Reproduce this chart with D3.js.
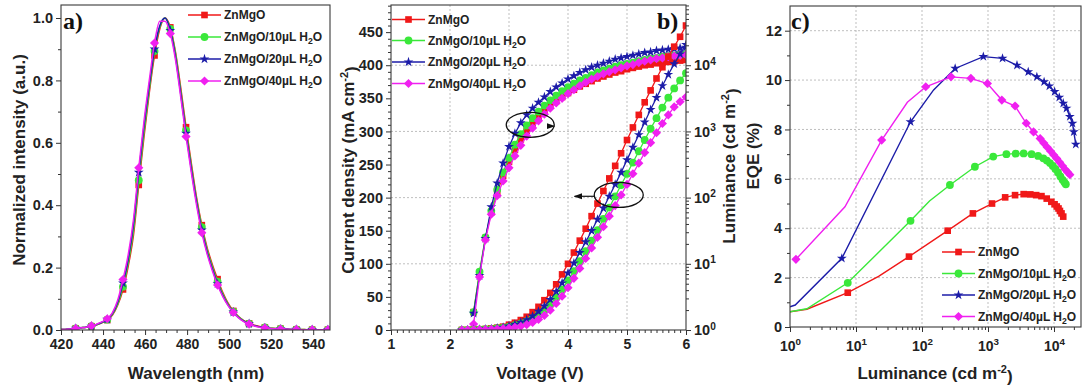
<!DOCTYPE html>
<html><head><meta charset="utf-8">
<script src="https://cdn.jsdelivr.net/npm/d3@7"></script>
<style>
body{margin:0;background:#fff;}
svg{display:block;font-family:"Liberation Sans",Arial,Helvetica,sans-serif;font-weight:bold;}
</style></head><body>
<svg id="chart" width="1083" height="391"></svg>
<script>
// ---------- shared ----------
const seriesLabels = ["ZnMgO", "ZnMgO/10µL H2O", "ZnMgO/20µL H2O", "ZnMgO/40µL H2O"];
const colors = ["#f01818", "#3ae83a", "#1c1ca8", "#f020f0"];

// ---------- panel a : EL spectra ----------
const wavelength = [419.5,422,424.5,427,429.5,432,434.5,437,439.5,442,444.5,447,449.5,452,454.5,457,459.5,462,464.5,467,469.5,472,474.5,477,479.5,482,484.5,487,489.5,492,494.5,497,499.5,502,504.5,507,509.5,512,514.5,517,519.5,522,524.5,527,529.5,532,534.5,537,539.5,542,544.5,547];
const elRed  = [0.001,0.002,0.003,0.005,0.007,0.009,0.012,0.017,0.023,0.032,0.048,0.08,0.13,0.205,0.305,0.465,0.62,0.76,0.88,0.965,1.0,0.97,0.89,0.775,0.65,0.535,0.425,0.336,0.265,0.21,0.163,0.12,0.086,0.061,0.043,0.03,0.021,0.015,0.011,0.008,0.006,0.005,0.004,0.003,0.002,0.002,0.002,0.001,0.001,0.001,0.001,0.001];
const elGreen= [0.001,0.002,0.003,0.005,0.007,0.009,0.012,0.017,0.024,0.033,0.05,0.083,0.139,0.215,0.32,0.48,0.635,0.77,0.894,0.97,1.0,0.965,0.885,0.765,0.64,0.525,0.418,0.33,0.258,0.203,0.155,0.115,0.083,0.059,0.042,0.029,0.02,0.014,0.01,0.008,0.006,0.005,0.004,0.003,0.002,0.002,0.002,0.001,0.001,0.001,0.001,0.001];
const elBlue = [0.001,0.002,0.003,0.005,0.007,0.009,0.012,0.018,0.025,0.034,0.053,0.09,0.15,0.228,0.34,0.505,0.655,0.785,0.9,0.975,1.0,0.96,0.875,0.755,0.63,0.515,0.41,0.32,0.25,0.196,0.148,0.11,0.08,0.057,0.04,0.028,0.02,0.014,0.01,0.007,0.005,0.004,0.003,0.003,0.002,0.002,0.001,0.001,0.001,0.001,0.001,0.001];
const elMag  = [0.001,0.002,0.003,0.005,0.007,0.009,0.013,0.019,0.026,0.036,0.056,0.096,0.162,0.242,0.355,0.52,0.67,0.8,0.92,0.99,0.99,0.95,0.865,0.745,0.62,0.505,0.4,0.312,0.244,0.19,0.144,0.107,0.078,0.056,0.039,0.027,0.019,0.013,0.009,0.007,0.005,0.004,0.003,0.003,0.002,0.002,0.001,0.001,0.001,0.001,0.001,0.001];
const aXTicks = [420,440,460,480,500,520,540];
const aYTicks = [0,0.2,0.4,0.6,0.8,1.0];

// ---------- panel b : J-V-L ----------
const voltage = [2.2,2.3,2.4,2.5,2.6,2.7,2.8,2.9,3.0,3.1,3.2,3.3,3.4,3.5,3.6,3.7,3.8,3.9,4.0,4.1,4.2,4.3,4.4,4.5,4.6,4.7,4.8,4.9,5.0,5.1,5.2,5.3,5.4,5.5,5.6,5.7,5.8,5.9,6.0];
const jRed   = [0,0.2,0.5,1,1.5,2.5,3.5,5,8,11,15,20,27,35,45,56,69,84,100,117,135,153,172,191,210,229,248,267,287,306,325,344,362,380,397,413,428,443,460];
const jGreen = [0,0.2,0.5,0.8,1.2,1.8,2.6,3.7,5.2,7.2,9.8,13.2,17.5,23,30,39,49,61,75,89,104,119,135,151,168,185,202,219,236,253,270,287,304,320,336,351,365,377,388];
const jBlue  = [0,0.2,0.5,0.8,1.2,1.8,2.8,4,6,8.5,11.5,15.5,21,28,36,46,58,71,86,101,117,133,150,167,184,202,220,238,257,276,295,314,333,351,369,386,402,417,431];
const jMag   = [0,0.1,0.3,0.5,0.7,1,1.4,2,2.8,4,5.5,8,11.5,16,22,30,40,51,64,78,93,108,124,140,156,172,188,204,220,236,252,268,283,298,312,325,337,345,352];
const lumRed   = [null,null,1.86,7.24,24.5,60.3,120,214,347,525,759,1023,1318,1660,2042,2455,2884,3311,3802,4266,4786,5248,5754,6310,6761,7244,7762,8128,8710,9120,9550,10000,10233,10715,10965,11220,11482,11749,12023];
const lumGreen = [null,null,1.86,7.59,25.1,63.1,132,240,398,631,912,1230,1585,1995,2455,2951,3467,4074,4677,5248,5888,6457,7079,7762,8318,8913,9550,10000,10471,10965,11482,12023,12589,12882,13490,13804,14125,14454,14791];
const lumBlue  = [null,null,1.78,6.61,24.0,72.4,166,331,589,933,1349,1778,2239,2754,3311,3981,4677,5370,6166,6918,7762,8511,9333,10000,10715,11482,12303,12882,13490,14125,14791,15488,15849,16596,16982,17378,17783,18197,18621];
const lumMag   = [null,null,1.23,6.31,22.9,56.2,107,178,282,427,617,851,1122,1445,1820,2239,2692,3162,3715,4266,4898,5495,6166,6761,7413,7943,8511,9120,9772,10233,10965,11482,12023,12589,12882,13490,13804,14125,14454];
const bXTicks = [1,2,3,4,5,6];
const bYTicks = [0,50,100,150,200,250,300,350,400,450];
const bRTicks = [1,10,100,1000,10000];

// ---------- panel c : EQE-L ----------
const eqeRedL  = [1,1.8,7.5,22,63.5,245,590,1150,1820,2570,3470,4370,5370,6460,7760,9120,10200,11000,11700,12300,13000,13800];
const eqeRedE  = [0.62,0.72,1.39,2.05,2.85,3.9,4.6,5.0,5.25,5.34,5.38,5.37,5.34,5.3,5.2,5.07,4.97,4.88,4.8,4.7,4.6,4.47];
const eqeRedM  = [0,0,1,0,1,1,1,1,1,1,1,1,1,1,1,1,1,1,1,1,1,1];
const eqeGreenL= [1,1.8,7.5,67,130,265,633,1200,1900,2630,3470,4570,5750,6900,7800,8700,9600,10500,11500,12500,13500,14400,15100];
const eqeGreenE= [0.62,0.74,1.79,4.3,5.1,5.75,6.49,6.9,7.0,7.02,7.03,7.0,6.93,6.83,6.74,6.64,6.52,6.4,6.26,6.1,5.96,5.86,5.78];
const eqeGreenM= [0,0,1,1,0,1,1,1,1,1,1,1,1,1,1,1,1,1,1,1,1,1,1];
const eqeBlueL = [1,1.2,6.1,67,150,318,850,1660,2750,4070,5500,7080,8510,10230,12020,13800,15490,17380,19050,19950,21380];
const eqeBlueE = [0.82,0.89,2.78,8.31,9.6,10.47,10.95,10.88,10.6,10.33,10.13,9.93,9.76,9.53,9.3,9.06,8.86,8.52,8.25,7.9,7.4];
const eqeBlueM = [0,0,1,1,0,1,1,1,1,1,1,1,1,1,1,1,1,1,1,1,1];
const eqeMagL  = [1.23,6.8,24.5,60,114,275,550,980,1620,2570,3800,4900,6170,7000,7900,8900,9900,11000,12200,13500,14800,16100,17400];
const eqeMagE  = [2.74,4.87,7.57,9.1,9.73,10.13,10.07,9.86,9.19,8.95,8.25,7.9,7.63,7.45,7.28,7.12,6.97,6.82,6.67,6.52,6.38,6.27,6.17];
const eqeMagM  = [1,0,1,0,1,1,1,1,1,1,1,1,1,1,1,1,1,1,1,1,1,1,1];
const cXTicks = [1,10,100,1000,10000];
const cYTicks = [0,2,4,6,8,10,12];

// ---------- drawing ----------
const svg = d3.select("#chart");
const defs = svg.append("defs");
defs.append("marker").attr("id","arrow").attr("viewBox","0 0 10 10").attr("refX",9).attr("refY",5)
  .attr("markerWidth",7).attr("markerHeight",7).attr("orient","auto-start-reverse")
  .append("path").attr("d","M0,1.5 L10,5 L0,8.5 Z").attr("fill","#111");

const shapes = [
  {type:d3.symbolSquare, size:44, rot:false},
  {type:d3.symbolCircle, size:48, rot:false},
  {type:d3.symbolStar, size:30, rot:false},
  {type:d3.symbolSquare, size:42, rot:true}
];
const TICK_FS = 14, TITLE_FS = 17, LEG_FS = 12;

function clip(id, x0, y0, x1, y1){
  defs.append("clipPath").attr("id",id).append("rect").attr("x",x0).attr("y",y0).attr("width",x1-x0).attr("height",y1-y0);
}
function frame(x0,y0,x1,y1){
  svg.append("rect").attr("x",x0).attr("y",y0).attr("width",x1-x0).attr("height",y1-y0)
    .attr("fill","none").attr("stroke","#3a3a3a").attr("stroke-width",1.1);
}
function styleAxis(g, fs){
  g.select(".domain").remove();
  g.selectAll(".tick line").attr("stroke","#333").attr("stroke-width",1);
  g.selectAll(".tick text").attr("fill","#222").attr("font-size",fs).attr("font-weight","bold")
    .attr("font-family",'"Liberation Sans",Arial,sans-serif');
}
function axis(gen, transform, fs){
  const g = svg.append("g").attr("transform",transform).call(gen);
  styleAxis(g, fs || TICK_FS);
  return g;
}
function supLabels(g){
  g.selectAll(".tick text").each(function(d){
    const t = d3.select(this); t.text(null);
    t.append("tspan").text("10");
    t.append("tspan").attr("dy","-0.55em").attr("font-size","70%").text(Math.round(Math.log10(d)));
  });
}
function drawSeries(g, xs, ys, xS, yS, ci, markFn, curve, width){
  const pts = xs.map((x,i)=>[x, ys[i], i]).filter(p=>p[1]!=null);
  g.append("path").datum(pts).attr("fill","none").attr("stroke",colors[ci]).attr("stroke-width",width||1.4)
    .attr("d", d3.line().x(p=>xS(p[0])).y(p=>yS(p[1])).curve(curve||d3.curveLinear));
  const sh = shapes[ci];
  g.selectAll(null).data(pts.filter(p=>markFn(p[2]))).join("path")
    .attr("transform",p=>`translate(${xS(p[0])},${yS(p[1])})${sh.rot?" rotate(45)":""}`)
    .attr("d", d3.symbol().type(sh.type).size(sh.size)).attr("fill",colors[ci]);
}
function labelWithSub(sel, label){
  const parts = label.split("H2O");
  sel.append("tspan").text(parts[0] + (parts.length>1 ? "H" : ""));
  if(parts.length>1){
    sel.append("tspan").attr("dy",3).attr("font-size",LEG_FS*0.72).text("2");
    sel.append("tspan").attr("dy",-3).text("O");
  }
}
function legend(x0, ys){
  seriesLabels.forEach((lab,i)=>{
    const y = ys[i];
    svg.append("line").attr("x1",x0).attr("x2",x0+33).attr("y1",y).attr("y2",y).attr("stroke",colors[i]).attr("stroke-width",1.6);
    const sh = shapes[i];
    svg.append("path").attr("transform",`translate(${x0+16.5},${y})${sh.rot?" rotate(45)":""}`)
      .attr("d", d3.symbol().type(sh.type).size(sh.size)).attr("fill",colors[i]);
    const t = svg.append("text").attr("x",x0+36).attr("y",y+4.3).attr("font-size",LEG_FS).attr("fill","#222");
    labelWithSub(t, lab);
  });
}
function title(x, y, rot, parts){
  const t = svg.append("text").attr("text-anchor","middle").attr("font-size",TITLE_FS).attr("fill","#222")
    .attr("transform",`translate(${x},${y})${rot?" rotate(-90)":""}`).attr("dy","0.35em");
  parts.forEach(p=>{
    if(typeof p === "string") t.append("tspan").text(p);
    else t.append("tspan").attr("dy",p.dy).attr("font-size",p.fs).text(p.t);
  });
  return t;
}
function panelLabel(x, y, s){
  svg.append("text").attr("x",x).attr("y",y).attr("font-family",'"Liberation Serif","Times New Roman",serif')
    .attr("font-weight","bold").attr("font-size",24).attr("fill","#111").text(s);
}

// ===== Panel a =====
{
  const x0=61, x1=330, y0=5, y1=330;
  const x = d3.scaleLinear().domain([420,548]).range([x0,x1]);
  const y = d3.scaleLinear().domain([0,1.0417]).range([y1,y0]);
  clip("clipA", x0, y0, x1, y1);
  axis(d3.axisBottom(x).tickValues(d3.range(425,548,5).filter(v=>v%20!==0)).tickSize(3).tickFormat(""), `translate(0,${y1})`);
  axis(d3.axisBottom(x).tickValues(aXTicks).tickSize(5).tickPadding(4).tickFormat(d3.format("d")), `translate(0,${y1})`);
  axis(d3.axisLeft(y).tickValues([0.1,0.3,0.5,0.7,0.9]).tickSize(3).tickFormat(""), `translate(${x0},0)`);
  axis(d3.axisLeft(y).tickValues(aYTicks).tickSize(5).tickPadding(3).tickFormat(d3.format(".1f")), `translate(${x0},0)`, 14.5);
  const g = svg.append("g").attr("clip-path","url(#clipA)");
  const mk = i => i>=3 && i%3===0;
  [elRed, elGreen, elBlue, elMag].forEach((s,ci)=>drawSeries(g, wavelength, s, x, y, ci, mk, d3.curveMonotoneX, 1.5));
  frame(x0,y0,x1,y1);
  legend(188, [15, 37, 59, 81]);
  panelLabel(63, 29, "a)");
  title(19, 160, true, ["Normalized intensity (a.u.)"]);
  title(196, 373, false, ["Wavelength (nm)"]);
}

// ===== Panel b =====
{
  const x0=391, x1=686, y0=5, y1=330;
  const x = d3.scaleLinear().domain([1,6]).range([x0,x1]);
  const y = d3.scaleLinear().domain([0,491]).range([y1,y0]);
  const yR = d3.scaleLog().domain([1, Math.pow(10,4.91)]).range([y1,y0]);
  clip("clipB", x0, y0, x1, y1);
  const grid = svg.append("g");
  [2,3,4,5].forEach(v=>grid.append("line").attr("x1",x(v)).attr("x2",x(v)).attr("y1",y0).attr("y2",y1));
  [10,100,1000,10000].forEach(v=>grid.append("line").attr("x1",x0).attr("x2",x1).attr("y1",yR(v)).attr("y2",yR(v)));
  grid.selectAll("line").attr("stroke","#b8b8b8").attr("stroke-width",0.9).attr("stroke-dasharray","2,2");
  axis(d3.axisBottom(x).tickValues(d3.range(1.1,6,0.1).filter(v=>Math.abs(v-Math.round(v))>0.01)).tickSize(3).tickFormat(""), `translate(0,${y1})`);
  axis(d3.axisBottom(x).tickValues(bXTicks).tickSize(5).tickPadding(4).tickFormat(d3.format("d")), `translate(0,${y1})`);
  axis(d3.axisLeft(y).tickValues(d3.range(10,491,10).filter(v=>v%50!==0)).tickSize(3).tickFormat(""), `translate(${x0},0)`);
  axis(d3.axisLeft(y).tickValues(bYTicks).tickSize(5).tickPadding(3).tickFormat(d3.format("d")), `translate(${x0},0)`, 14.5);
  const minorR = [];
  [1,10,100,1000,10000].forEach(dd=>[2,3,4,5,6,7,8,9].forEach(m=>{ if(dd*m < Math.pow(10,4.91)) minorR.push(dd*m); }));
  axis(d3.axisRight(yR).tickValues(minorR).tickSize(3).tickFormat(""), `translate(${x1},0)`);
  const gr = axis(d3.axisRight(yR).tickValues(bRTicks).tickSize(5).tickPadding(3), `translate(${x1},0)`, 14.5);
  supLabels(gr);
  const g = svg.append("g").attr("clip-path","url(#clipB)");
  const all = () => true;
  [lumRed, lumGreen, lumBlue, lumMag].forEach((s,ci)=>drawSeries(g, voltage, s, x, yR, ci, all, d3.curveLinear, 1.3));
  [jRed, jGreen, jBlue, jMag].forEach((s,ci)=>drawSeries(g, voltage, s, x, y, ci, all, d3.curveLinear, 1.3));
  svg.append("ellipse").attr("cx",x(3.36)).attr("cy",y(310)).attr("rx",24).attr("ry",12.5)
    .attr("fill","none").attr("stroke","#111").attr("stroke-width",1.3);
  svg.append("line").attr("x1",x(3.36)+24).attr("x2",x(3.77)).attr("y1",y(308)).attr("y2",y(308))
    .attr("stroke","#111").attr("stroke-width",1.2).attr("marker-end","url(#arrow)");
  svg.append("ellipse").attr("cx",x(4.86)).attr("cy",y(204)).attr("rx",24.5).attr("ry",12.5)
    .attr("fill","none").attr("stroke","#111").attr("stroke-width",1.3);
  svg.append("line").attr("x1",x(4.86)-24.5).attr("x2",x(4.11)).attr("y1",y(202)).attr("y2",y(202))
    .attr("stroke","#111").attr("stroke-width",1.2).attr("marker-end","url(#arrow)");
  frame(x0,y0,x1,y1);
  legend(392, [19.5, 40.5, 62, 83.5]);
  panelLabel(657, 29, "b)");
  title(348, 170, true, ["Current density (mA cm", {t:"-2", dy:"-0.5em", fs:11}, {t:")", dy:"0.5em", fs:TITLE_FS}]);
  title(540, 373, false, ["Voltage (V)"]);
  title(729, 166, true, ["Luminance (cd m", {t:"-2", dy:"-0.5em", fs:11}, {t:")", dy:"0.5em", fs:TITLE_FS}]);
  title(753, 156, true, ["EQE (%)"]);
}

// ===== Panel c =====
{
  const x0=790, x1=1081, y0=6, y1=327;
  const x = d3.scaleLog().domain([1, Math.pow(10,291/66)]).range([x0,x1]);
  const y = d3.scaleLinear().domain([0,13]).range([y1,y0]);
  clip("clipC", x0, y0, x1, y1);
  const grid = svg.append("g");
  [10,100,1000,10000].forEach(v=>grid.append("line").attr("x1",x(v)).attr("x2",x(v)).attr("y1",y0).attr("y2",y1));
  [2,4,6,8,10,12].forEach(v=>grid.append("line").attr("x1",x0).attr("x2",x1).attr("y1",y(v)).attr("y2",y(v)));
  grid.selectAll("line").attr("stroke","#b8b8b8").attr("stroke-width",0.9).attr("stroke-dasharray","2,2");
  const minorX = [];
  [1,10,100,1000,10000].forEach(dd=>[2,3,4,5,6,7,8,9].forEach(m=>{ if(dd*m < x.domain()[1]) minorX.push(dd*m); }));
  axis(d3.axisBottom(x).tickValues(minorX).tickSize(3).tickFormat(""), `translate(0,${y1})`);
  const gx = axis(d3.axisBottom(x).tickValues(cXTicks).tickSize(5).tickPadding(4), `translate(0,${y1})`);
  supLabels(gx);
  gx.selectAll(".tick text").attr("dy","1.05em");
  axis(d3.axisLeft(y).tickValues([1,3,5,7,9,11]).tickSize(3).tickFormat(""), `translate(${x0},0)`);
  axis(d3.axisLeft(y).tickValues(cYTicks).tickSize(5).tickPadding(3).tickFormat(d3.format("d")), `translate(${x0},0)`, 14.5);
  const g = svg.append("g").attr("clip-path","url(#clipC)");
  const series = [[eqeRedL,eqeRedE,eqeRedM],[eqeGreenL,eqeGreenE,eqeGreenM],[eqeBlueL,eqeBlueE,eqeBlueM],[eqeMagL,eqeMagE,eqeMagM]];
  series.forEach((s,ci)=>drawSeries(g, s[0], s[1], x, y, ci, i=>s[2][i]===1, d3.curveLinear, 1.4));
  frame(x0,y0,x1,y1);
  legend(942, [252, 273.5, 295, 316.5]);
  panelLabel(791, 29, "c)");
  title(935, 373, false, ["Luminance (cd m", {t:"-2", dy:"-0.5em", fs:11}, {t:")", dy:"0.5em", fs:TITLE_FS}]);
}
</script>
</body></html>
